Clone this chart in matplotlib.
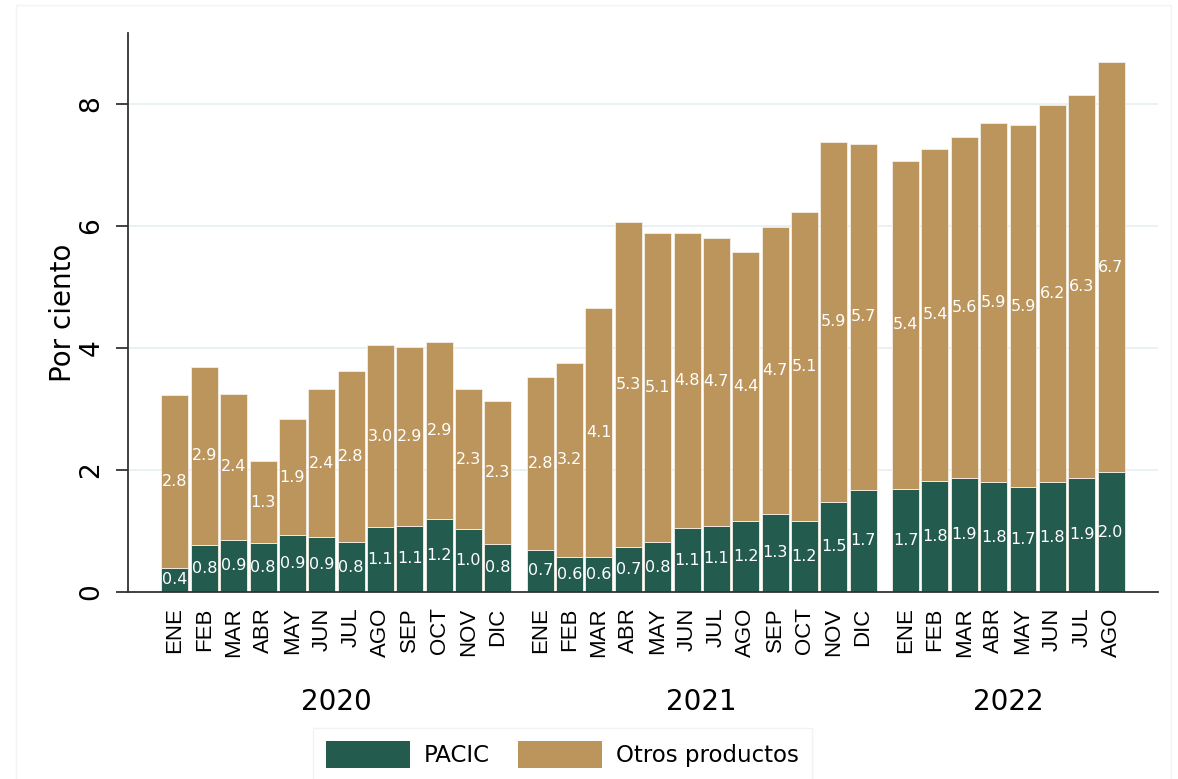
import numpy as np
import matplotlib.pyplot as plt
import matplotlib.transforms as mtransforms
from matplotlib.patches import Patch, Rectangle

# Data (per cent)
anios = ['2020', '2021', '2022']
meses_2020 = ['ENE', 'FEB', 'MAR', 'ABR', 'MAY', 'JUN', 'JUL', 'AGO', 'SEP', 'OCT', 'NOV', 'DIC']
meses_2021 = ['ENE', 'FEB', 'MAR', 'ABR', 'MAY', 'JUN', 'JUL', 'AGO', 'SEP', 'OCT', 'NOV', 'DIC']
meses_2022 = ['ENE', 'FEB', 'MAR', 'ABR', 'MAY', 'JUN', 'JUL', 'AGO']

pacic = [0.40, 0.77, 0.86, 0.80, 0.93, 0.90, 0.82, 1.06, 1.09, 1.20, 1.03, 0.79,
         0.69, 0.57, 0.57, 0.73, 0.82, 1.05, 1.09, 1.16, 1.28, 1.16, 1.48, 1.68,
         1.69, 1.82, 1.87, 1.80, 1.72, 1.80, 1.87, 1.96]
otros = [2.83, 2.92, 2.38, 1.34, 1.90, 2.42, 2.80, 2.98, 2.92, 2.89, 2.29, 2.34,
         2.84, 3.19, 4.09, 5.34, 5.06, 4.83, 4.71, 4.42, 4.70, 5.07, 5.90, 5.66,
         5.38, 5.44, 5.58, 5.88, 5.93, 6.18, 6.28, 6.73]

VERDE = '#235B4E'
DORADO = '#BC955C'

meses = [meses_2020, meses_2021, meses_2022]
tam = [len(m) for m in meses]
hueco = 0.45

# positions: consecutive months, extra gap between years
x = []
centros = []
for k, n in enumerate(tam):
    inicio = sum(tam[:k]) + k * hueco
    pos = inicio + np.arange(n)
    x.extend(pos)
    centros.append(pos.mean())
x = np.array(x)
etiquetas = meses_2020 + meses_2021 + meses_2022

fig = plt.figure(figsize=(11.78, 7.79), dpi=100)
fig.patches.append(Rectangle((0.014, -0.01), 0.98, 1.004, transform=fig.transFigure,
                             fill=False, edgecolor='#f2f4f4', linewidth=1))
ax = fig.add_axes([0.1087, 0.240, 0.8743, 0.7176])

b1 = ax.bar(x, pacic, width=0.92, color=VERDE, edgecolor='#f4efe6', linewidth=0.6,
            label='PACIC', zorder=2)
b2 = ax.bar(x, otros, width=0.92, bottom=pacic, color=DORADO, edgecolor='#f4efe6',
            linewidth=0.6, label='Otros productos', zorder=2)

ax.bar_label(b1, fmt='%.1f', label_type='center', color='white', fontsize=11.5)
ax.bar_label(b2, fmt='%.1f', label_type='center', color='white', fontsize=11.5)

ax.set_xlim(x[0] - 1.6, x[-1] + 1.6)
ax.set_ylim(0, 9.16)

ax.set_yticks([0, 2, 4, 6, 8])
ax.yaxis.grid(True, color='#e6eff2', linewidth=1.2, zorder=0)
ax.set_axisbelow(True)
gl = ax.get_ygridlines()
gl[0].set_visible(False)

ax.tick_params(axis='y', labelsize=19, length=9, width=1.3, pad=8, color='#333333')
for t in ax.get_yticklabels():
    t.set_rotation(90)
    t.set_va('center')

ax.set_xticks(x)
ax.set_xticklabels(etiquetas, rotation=90, fontsize=16, family='Liberation Sans')
ax.tick_params(axis='x', length=0, pad=11)

ax.set_ylabel('Por ciento', fontsize=20, labelpad=1)

for s in ['top', 'right']:
    ax.spines[s].set_visible(False)
ax.spines['left'].set_color('#333333')
ax.spines['left'].set_linewidth(1.3)
ax.spines['bottom'].set_color('#333333')
ax.spines['bottom'].set_linewidth(1.3)

trans = mtransforms.blended_transform_factory(ax.transData, ax.transAxes)
for c, a in zip(centros, anios):
    ax.text(c, -0.197, a, transform=trans, ha='center', va='center', fontsize=20)

handles = [Patch(facecolor=VERDE, label='PACIC'), Patch(facecolor=DORADO, label='Otros productos')]
leg = fig.legend(handles=handles, loc='upper left', bbox_to_anchor=(313 / 1178, 1 - 728 / 779),
                 ncol=2, fontsize=16.5, frameon=True, fancybox=False, handlelength=3.7,
                 handleheight=1.45, borderpad=0.55, columnspacing=1.2, handletextpad=0.6,
                 borderaxespad=0)
leg.get_frame().set_edgecolor('#eef1f1')
leg.get_frame().set_linewidth(1)

fig.savefig('out.png', dpi=100)
